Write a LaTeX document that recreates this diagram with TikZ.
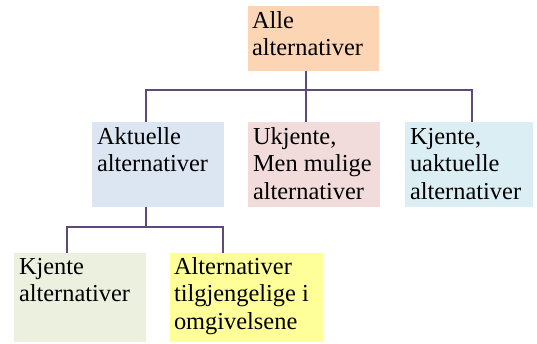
\documentclass[tikz,border=0pt]{standalone}
\usepackage{fontspec}
\setmainfont{Liberation Serif}
\definecolor{linepurple}{HTML}{5F497A}
\definecolor{peach}{HTML}{FCD5B5}
\definecolor{paleblue}{HTML}{DCE6F2}
\definecolor{palerose}{HTML}{F2DCDB}
\definecolor{palecyan}{HTML}{DBEEF4}
\definecolor{palegreen}{HTML}{EBF1DE}
\definecolor{paleyellow}{HTML}{FFFF99}
\begin{document}
\begin{tikzpicture}[x=1pt,y=-1pt,
  box/.style={draw=none,inner sep=0pt,outer sep=0pt,anchor=north west},
  lbl/.style={inner sep=0pt,outer sep=0pt,anchor=base west,align=left,
    font=\fontsize{24.4pt}{27.5pt}\selectfont},
  conn/.style={draw=linepurple,line width=2pt}]
\useasboundingbox (0,0) rectangle (537,343);

% boxes
\node[box,fill=peach,minimum width=131pt,minimum height=65pt] (top) at (248,6) {};
\node[box,fill=paleblue,minimum width=132pt,minimum height=85pt] (akt) at (92,122) {};
\node[box,fill=palerose,minimum width=132pt,minimum height=85pt] (ukj) at (248,122) {};
\node[box,fill=palecyan,minimum width=128pt,minimum height=85pt] (kju) at (405,122) {};
\node[box,fill=palegreen,minimum width=132pt,minimum height=89pt] (kja) at (14,253) {};
\node[box,fill=paleyellow,minimum width=153pt,minimum height=89pt] (omg) at (170,253) {};

% texts (anchored at the baseline of the last line)
\node[lbl] (topT) at ([xshift=4pt,yshift=-49.5pt]top.north west) {Alle\\alternativer};
\node[lbl] (aktT) at ([xshift=5pt,yshift=-49.5pt]akt.north west) {Aktuelle\\alternativer};
\node[lbl] (ukjT) at ([xshift=5pt,yshift=-77pt]ukj.north west) {Ukjente,\\Men mulige\\alternativer};
\node[lbl] (kjuT) at ([xshift=5pt,yshift=-77pt]kju.north west) {Kjente,\\uaktuelle\\alternativer};
\node[lbl] (kjaT) at ([xshift=5pt,yshift=-48.5pt]kja.north west) {Kjente\\alternativer};
\node[lbl] (omgT) at ([xshift=4pt,yshift=-76pt]omg.north west) {Alternativer\\tilgjengelige i\\omgivelsene};

% connectors
\coordinate (bus) at (306,90);
\coordinate (bus2) at (146,227);
\draw[conn] ([xshift=-7.5pt]top.south) -- (bus);
\draw[conn] ([xshift=-12pt]akt.north) |- (bus) -| ([xshift=3pt]kju.north);
\draw[conn] (bus) -- ([xshift=-8pt]ukj.north);
\draw[conn] ([xshift=-12pt]akt.south) -- (bus2);
\draw[conn] ([xshift=-13pt]kja.north) |- (bus2) -| ([xshift=-23.5pt]omg.north);
\end{tikzpicture}
\end{document}
